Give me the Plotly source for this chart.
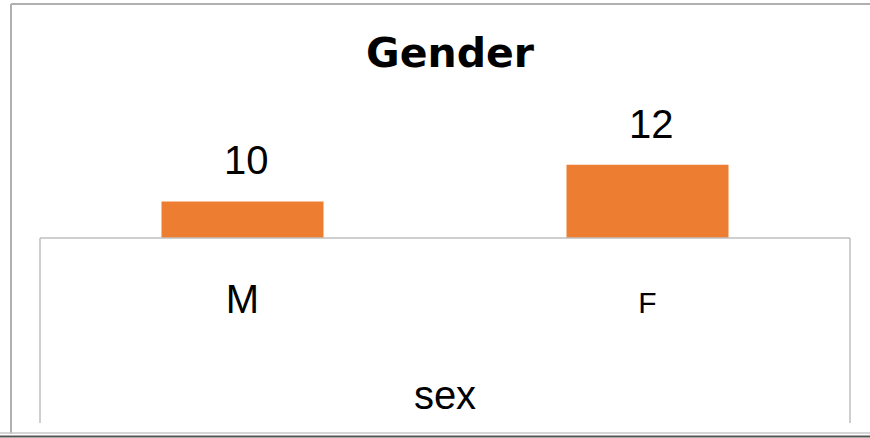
import plotly.graph_objects as go

# ---- data ----
categories = ["M", "F"]
counts = [10, 12]
value_labels = ["10", "12"]
tick_labels = ["M", "<span style='font-size:30px'>F</span>"]
chart_title = "Gender"
axis_title = "sex"

W, H = 870, 438

def px(x):
    return x / W

def py(y):
    return 1 - y / H

BAR_COLOR = "#ED7D31"
TEXT_FONT = "Liberation Sans, Arial, sans-serif"

fig = go.Figure(
    go.Bar(
        x=categories,
        y=counts,
        marker=dict(color=BAR_COLOR, line=dict(width=0)),
        width=0.4,
        hoverinfo="x+y",
    )
)

annotations = []
for c, v, t in zip(categories, counts, value_labels):
    annotations.append(dict(
        x=c, y=v, xref="x", yref="y", text=t, showarrow=False,
        yanchor="middle", xanchor="center", yshift=41, xshift=4,
        font=dict(family=TEXT_FONT, size=40, color="#000000"),
    ))

line_gray = dict(color="#BFBFBF", width=1.5)
shapes = [
    # inner box (top, left, right)
    dict(type="line", xref="paper", yref="paper", x0=px(40), x1=px(850), y0=py(238), y1=py(238), line=line_gray),
    dict(type="line", xref="paper", yref="paper", x0=px(40), x1=px(40), y0=py(238), y1=py(423), line=line_gray),
    dict(type="line", xref="paper", yref="paper", x0=px(850), x1=px(850), y0=py(238), y1=py(423), line=line_gray),
    # outer border
    dict(type="line", xref="paper", yref="paper", x0=px(11), x1=1, y0=py(4), y1=py(4), line=dict(color="#B0B0B0", width=2)),
    dict(type="line", xref="paper", yref="paper", x0=px(11), x1=px(11), y0=py(4), y1=py(434), line=dict(color="#B0B0B0", width=2)),
    dict(type="line", xref="paper", yref="paper", x0=0, x1=1, y0=py(433), y1=py(433), line=dict(color="#C8C8C8", width=1.5)),
    dict(type="line", xref="paper", yref="paper", x0=0, x1=1, y0=py(436.5), y1=py(436.5), line=dict(color="#555555", width=2)),
]

fig.update_layout(
    width=W, height=H,
    margin=dict(l=0, r=0, t=0, b=0),
    paper_bgcolor="#FFFFFF",
    plot_bgcolor="rgba(0,0,0,0)",
    showlegend=False,
    bargap=0.6,
    title=dict(
        text="<b>" + chart_title + "</b>",
        x=px(450), y=py(53), xanchor="center", yanchor="middle",
        font=dict(family="DejaVu Sans, sans-serif", size=41, color="#000000"),
    ),
    xaxis=dict(
        domain=[px(40), px(850)],
        range=[-0.5, 1.5],
        tickmode="array",
        tickvals=categories,
        ticktext=tick_labels,
        tickfont=dict(family=TEXT_FONT, size=40, color="#000000"),
        ticks="",
        ticklabelstandoff=34,
        showline=False,
        showgrid=False,
        zeroline=False,
        title=dict(text=axis_title, standoff=60,
                   font=dict(family=TEXT_FONT, size=40, color="#000000")),
        fixedrange=True,
    ),
    yaxis=dict(
        domain=[py(238), py(238 - 8 * 18.3)],
        range=[8, 16],
        visible=False,
        fixedrange=True,
    ),
    annotations=annotations,
    shapes=shapes,
)

fig.write_html(
    "out.html",
    config={"displayModeBar": False},
    post_script="document.body.style.margin='0';document.body.style.overflow='hidden';",
)
